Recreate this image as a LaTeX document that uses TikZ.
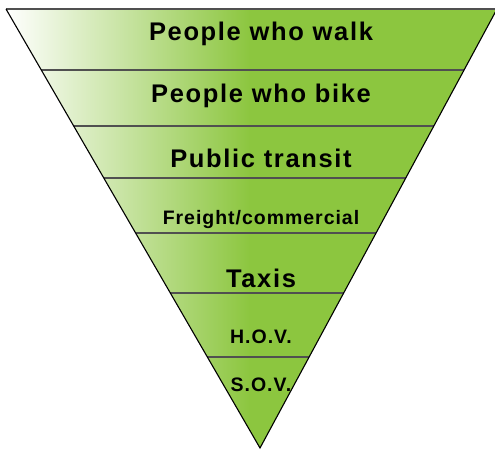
\documentclass[tikz,border=0pt]{standalone}
\usepackage{fontspec}
\setmainfont{Liberation Sans}
\newfontfamily\bigfont[LetterSpace=6.5]{Liberation Sans}
\newfontfamily\smallfont[LetterSpace=5]{Liberation Sans}
\usetikzlibrary{calc}
\definecolor{leafgreen}{HTML}{8CC63F}
\definecolor{bandline}{HTML}{505050}
\begin{document}
\begin{tikzpicture}[x=1pt,y=-1pt,
  biglabel/.style={anchor=base,font=\bigfont\bfseries\fontsize{25.5}{28}\selectfont},
  smalllabel/.style={anchor=base,font=\smallfont\bfseries\fontsize{19.5}{22}\selectfont},
  divider/.style={draw=bandline,line width=1.6pt}]
  \useasboundingbox (0,0) rectangle (495,452);
  % corners of the funnel
  \coordinate (TL) at (6,9);
  \coordinate (TR) at (497,9);
  \coordinate (AP) at (260,448);
  % fill: white-to-green fade on the left, solid green on the right
  \begin{scope}
    \clip (TL) -- (TR) -- (AP) -- cycle;
    \shade[left color=white,right color=leafgreen] (6,0) rectangle (250,452);
    \fill[leafgreen] (249,0) rectangle (500,452);
  \end{scope}
  % band dividers
  \foreach \t/\n in {0.139/1,0.2665/2,0.385/3,0.510/4,0.647/5,0.793/6}{
    \coordinate (L\n) at ($(TL)!\t!(AP)$);
    \coordinate (R\n) at ($(TR)!\t!(AP)$);
    \draw[divider] (L\n) -- (R\n);
  }
  % outline
  \draw[bandline,line width=2pt] (TL) -- (TR);
  \draw[black,line width=1.1pt] (TL) -- (AP) -- (TR);
  % labels
  \node[biglabel] (walk) at (261,41) {People who walk};
  \node[biglabel] (bike) at (261,102) {People who bike};
  \node[biglabel] (transit) at (261,167) {Public transit};
  \node[smalllabel] (freight) at (261,224) {Freight/commercial};
  \node[biglabel] (taxis) at (261,287) {Taxis};
  \node[smalllabel] (hov) at (261,343) {H.O.V.};
  \node[smalllabel] (sov) at (261,391) {S.O.V.};
\end{tikzpicture}
\end{document}
